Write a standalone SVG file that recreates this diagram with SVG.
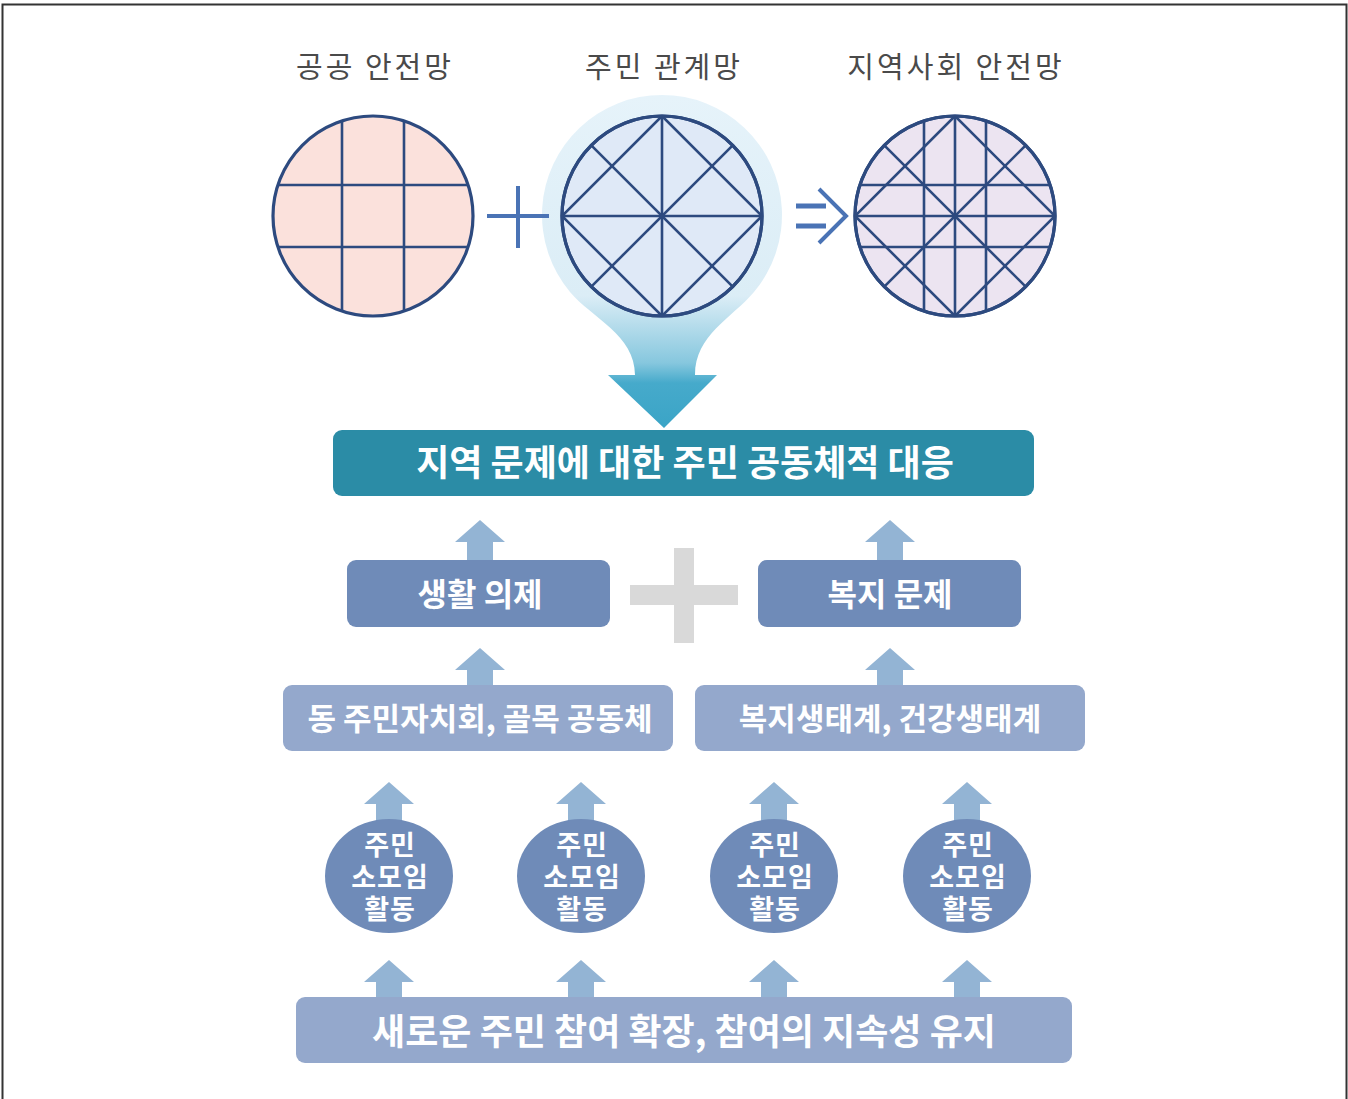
<svg xmlns="http://www.w3.org/2000/svg" xmlns:xlink="http://www.w3.org/1999/xlink" width="1348" height="1099" viewBox="0 0 1348 1099">
<style>
.t{font-family:"Noto Sans CJK KR","Noto Sans CJK SC",sans-serif;text-anchor:middle;dominant-baseline:central}
.title{font-size:29px;fill:#4a4a4a;letter-spacing:3px;font-weight:400}
.w{fill:#ffffff;font-weight:700}
.c{font-size:27px;letter-spacing:1px}
.net{stroke:#2d4a7f;stroke-width:2.6;fill:none}
.rim{stroke:#2d4a7f;stroke-width:3.2}
.up{fill:#93b4d4}
.l2{fill:#6f8bb8}
.l3{fill:#94a8cc}
.sym{stroke:#4a73b5;stroke-width:4;fill:none}
.sym2{stroke:#4a73b5;stroke-width:5;fill:none}
</style>
<defs>
<path id="up" d="M0,0 L25,22 L13,22 L13,42 L-13,42 L-13,22 L-25,22 Z"/>
<linearGradient id="drop" gradientUnits="userSpaceOnUse" x1="0" y1="95" x2="0" y2="430">
<stop offset="0" stop-color="#e6f3fa"/>
<stop offset="0.6" stop-color="#dbedf6"/>
<stop offset="0.8" stop-color="#86c7de"/>
<stop offset="0.86" stop-color="#46aacb"/>
<stop offset="1" stop-color="#3aa4c6"/>
</linearGradient>
<clipPath id="c1"><circle cx="373" cy="216" r="100"/></clipPath>
<clipPath id="c2"><circle cx="662" cy="216" r="100"/></clipPath>
<clipPath id="c3"><circle cx="955" cy="216" r="100"/></clipPath>
</defs>
<rect x="2.5" y="4.5" width="1344" height="1100" fill="#ffffff" stroke="#333333" stroke-width="2"/>

<text class="t title" x="375" y="65">공공 안전망</text>
<text class="t title" x="664" y="65">주민 관계망</text>
<text class="t title" x="956" y="65">지역사회 안전망</text>

<g id="public-net">
<circle cx="373" cy="216" r="100" fill="#fbe1dc" class="rim"/>
<g clip-path="url(#c1)" class="net">
<line x1="342" y1="100" x2="342" y2="330"/><line x1="404" y1="100" x2="404" y2="330"/>
<line x1="260" y1="185" x2="490" y2="185"/><line x1="260" y1="247" x2="490" y2="247"/>
</g>
</g>

<g id="resident-net">
<path d="M635,375 C635,335 592,318 570,292 A120,120 0 1 1 754,292 C732,318 695,335 695,375 L717,375 L664,428 L608,375 Z" fill="url(#drop)"/>
<circle cx="662" cy="216" r="100" fill="#dfe9f7" class="rim"/>
<g clip-path="url(#c2)" class="net">
<polygon points="662,116 762,216 662,316 562,216"/>
<line x1="662" y1="110" x2="662" y2="320"/><line x1="555" y1="216" x2="770" y2="216"/>
<line x1="591.3" y1="145.3" x2="732.7" y2="286.7"/><line x1="732.7" y1="145.3" x2="591.3" y2="286.7"/>
</g>
<circle cx="662" cy="216" r="100" fill="none" class="rim"/>
</g>

<g id="community-net">
<circle cx="955" cy="216" r="100" fill="#ece4f1" class="rim"/>
<g clip-path="url(#c3)" class="net">
<polygon points="955,116 1055,216 955,316 855,216"/>
<line x1="955" y1="110" x2="955" y2="320"/><line x1="850" y1="216" x2="1060" y2="216"/>
<line x1="884.3" y1="145.3" x2="1025.7" y2="286.7"/><line x1="1025.7" y1="145.3" x2="884.3" y2="286.7"/>
<line x1="924" y1="100" x2="924" y2="330"/><line x1="986" y1="100" x2="986" y2="330"/>
<line x1="850" y1="185" x2="1060" y2="185"/><line x1="850" y1="247" x2="1060" y2="247"/>
</g>
<circle cx="955" cy="216" r="100" fill="none" class="rim"/>
</g>

<g id="connectors">
<path class="sym" d="M487,216 H549 M518,186 V248"/>
<path class="sym2" d="M796,206 H826 M796,226 H826"/>
<path class="sym" d="M819,189 L846,216 L819,243"/>
<g class="up">
<use xlink:href="#up" x="480" y="520"/>
<use xlink:href="#up" x="890" y="520"/>
<use xlink:href="#up" x="480" y="648"/>
<use xlink:href="#up" x="890" y="648"/>
<use xlink:href="#up" x="389" y="782"/>
<use xlink:href="#up" x="581" y="782"/>
<use xlink:href="#up" x="774" y="782"/>
<use xlink:href="#up" x="967" y="782"/>
<use xlink:href="#up" x="389" y="960"/>
<use xlink:href="#up" x="581" y="960"/>
<use xlink:href="#up" x="774" y="960"/>
<use xlink:href="#up" x="967" y="960"/>
</g>
<rect x="630" y="585" width="108" height="20" fill="#d9d9d9"/>
<rect x="674" y="548" width="20" height="95" fill="#d9d9d9"/>
</g>

<g id="response">
<rect x="333" y="430" width="701" height="66" rx="9" fill="#2b8ca6"/>
<text class="t w" x="685" y="460" font-size="36">지역 문제에 대한 주민 공동체적 대응</text>
</g>

<g id="life-agenda">
<rect class="l2" x="347" y="560" width="263" height="67" rx="9"/>
<text class="t w" x="480" y="592" font-size="32">생활 의제</text>
</g>
<g id="welfare-issue">
<rect class="l2" x="758" y="560" width="263" height="67" rx="9"/>
<text class="t w" x="890" y="592" font-size="32">복지 문제</text>
</g>

<g id="dong-community">
<rect class="l3" x="283" y="685" width="390" height="66" rx="9"/>
<text class="t w" x="480" y="716" font-size="31">동 주민자치회, 골목 공동체</text>
</g>
<g id="welfare-ecosystem">
<rect class="l3" x="695" y="685" width="390" height="66" rx="9"/>
<text class="t w" x="890" y="716" font-size="31">복지생태계, 건강생태계</text>
</g>

<g id="small-group-1">
<ellipse class="l2" cx="389" cy="876" rx="64" ry="57"/>
<text class="t w c"><tspan x="390" y="843">주민</tspan><tspan x="390" y="875">소모임</tspan><tspan x="390" y="907">활동</tspan></text>
</g>
<g id="small-group-2">
<ellipse class="l2" cx="581" cy="876" rx="64" ry="57"/>
<text class="t w c"><tspan x="582" y="843">주민</tspan><tspan x="582" y="875">소모임</tspan><tspan x="582" y="907">활동</tspan></text>
</g>
<g id="small-group-3">
<ellipse class="l2" cx="774" cy="876" rx="64" ry="57"/>
<text class="t w c"><tspan x="775" y="843">주민</tspan><tspan x="775" y="875">소모임</tspan><tspan x="775" y="907">활동</tspan></text>
</g>
<g id="small-group-4">
<ellipse class="l2" cx="967" cy="876" rx="64" ry="57"/>
<text class="t w c"><tspan x="968" y="843">주민</tspan><tspan x="968" y="875">소모임</tspan><tspan x="968" y="907">활동</tspan></text>
</g>

<g id="participation">
<rect class="l3" x="296" y="997" width="776" height="66" rx="9"/>
<text class="t w" x="684" y="1029" font-size="36">새로운 주민 참여 확장, 참여의 지속성 유지</text>
</g>
</svg>
